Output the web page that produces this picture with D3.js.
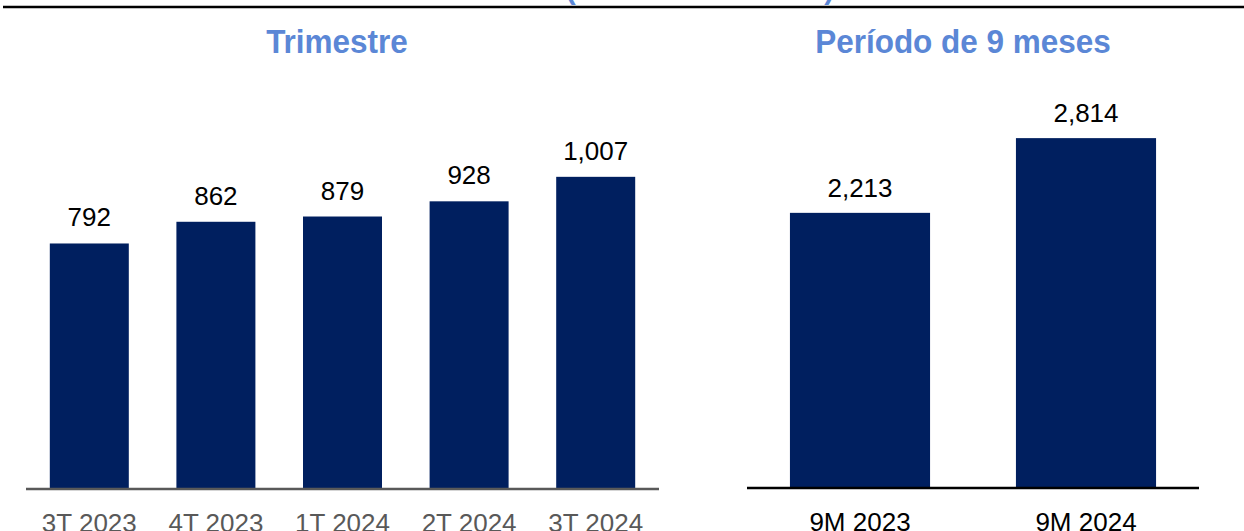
<!DOCTYPE html>
<html>
<head>
<meta charset="utf-8">
<script src="https://cdn.jsdelivr.net/npm/d3@7"></script>
<style>
  html, body { margin: 0; padding: 0; background: #fff; }
  svg { display: block; }
  text { font-family: "Liberation Sans", Arial, sans-serif; }
</style>
</head>
<body>
<svg id="chart" width="1244" height="531"></svg>
<script>
// Quarterly figures
const quarterCategories = ["3T 2023", "4T 2023", "1T 2024", "2T 2024", "3T 2024"];
const quarterValues = [792, 862, 879, 928, 1007];

// Nine-month cumulative figures
const periodCategories = ["9M 2023", "9M 2024"];
const periodValues = [2213, 2814];

const unitsLabel = "(En millones de S/)";
const quarterTitle = "Trimestre";
const periodTitle = "Período de 9 meses";

const barColor = "#001f5f";
const titleColor = "#5b87d6";
const fmt = d3.format(",");

const svg = d3.select("#chart");

// Header rule and units caption running off the top edge
svg.append("text")
  .attr("x", 700).attr("y", -1)
  .attr("text-anchor", "middle")
  .attr("font-size", 30).attr("font-weight", "bold")
  .attr("fill", titleColor)
  .text(unitsLabel);
svg.append("line")
  .attr("x1", 3).attr("x2", 1244).attr("y1", 7).attr("y2", 7)
  .attr("stroke", "#000").attr("stroke-width", 2.5);

function panel(cfg) {
  const g = svg.append("g");
  const x = d3.scaleBand()
    .domain(cfg.categories)
    .range(cfg.xRange)
    .paddingInner(cfg.padInner)
    .paddingOuter(cfg.padOuter);
  const y = d3.scaleLinear().domain(cfg.yDomain).range(cfg.yRange);
  const data = cfg.categories.map((c, i) => ({ c, v: cfg.values[i] }));

  // Panel title, slightly tall lettering
  g.append("text")
    .attr("transform", `translate(${cfg.titleX},53) scale(1,1.06)`)
    .attr("text-anchor", "middle")
    .attr("font-size", 31.5).attr("font-weight", "bold")
    .attr("fill", titleColor)
    .text(cfg.title);

  g.selectAll("rect.bar").data(data).join("rect")
    .attr("class", "bar")
    .attr("x", d => x(d.c))
    .attr("width", x.bandwidth())
    .attr("y", d => y(d.v))
    .attr("height", d => y(0) - y(d.v))
    .attr("fill", barColor);

  g.selectAll("text.val").data(data).join("text")
    .attr("class", "val")
    .attr("x", d => x(d.c) + x.bandwidth() / 2)
    .attr("y", d => y(d.v) - cfg.labelGap)
    .attr("text-anchor", "middle")
    .attr("font-size", 26)
    .attr("fill", "#000")
    .text(d => fmt(d.v));

  const axis = d3.axisBottom(x).tickSize(0).tickPadding(0);
  const ag = g.append("g")
    .attr("transform", `translate(0,${y(0)})`)
    .call(axis);
  ag.select(".domain")
    .attr("d", `M${cfg.xRange[0]},0H${cfg.xRange[1]}`)
    .attr("stroke", cfg.axisColor).attr("stroke-width", 2.5);
  ag.selectAll(".tick text")
    .attr("dy", 0).attr("y", cfg.tickY)
    .attr("font-size", 26)
    .attr("font-family", "Liberation Sans, Arial, sans-serif")
    .attr("fill", cfg.labelColor);
}

panel({
  categories: quarterCategories, values: quarterValues, title: quarterTitle,
  titleX: 337, xRange: [26, 659], padInner: 0.376, padOuter: 0.188,
  yDomain: [0, 1100], yRange: [489, 148], labelGap: 17, tickY: 43,
  axisColor: "#595959", labelColor: "#595959"
});

panel({
  categories: periodCategories, values: periodValues, title: periodTitle,
  titleX: 963, xRange: [747, 1199], padInner: 0.38, padOuter: 0.19,
  yDomain: [0, 3000], yRange: [488, 115], labelGap: 16, tickY: 43,
  axisColor: "#000", labelColor: "#000"
});
</script>
</body>
</html>
